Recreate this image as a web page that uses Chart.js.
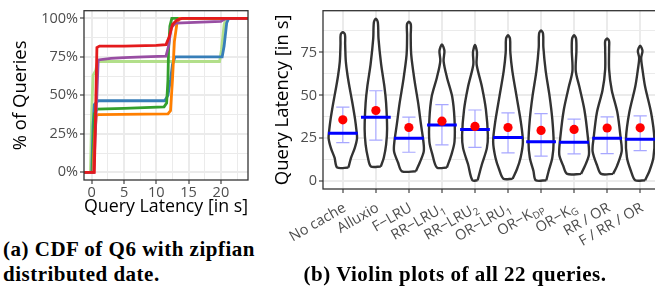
<!DOCTYPE html>
<html>
<head>
<meta charset="utf-8">
<script src="https://cdn.jsdelivr.net/npm/chart.js@4.4.0/dist/chart.umd.min.js"></script>
<style>
  html, body { margin: 0; padding: 0; background: #fff; width: 655px; height: 295px; overflow: hidden; }
  body { position: relative; }
  #cdf { position: absolute; left: 0; top: 0; }
  #violin { position: absolute; left: 255px; top: 0; }
  .cap { position: absolute; font-family: "Liberation Serif", serif; font-weight: bold; font-size: 21px; letter-spacing: 0.5px; color: #000; white-space: nowrap; }
</style>
</head>
<body>
<canvas id="cdf" width="250" height="226"></canvas>
<canvas id="violin" width="410" height="272"></canvas>
<div class="cap" style="left:3px; top:237px; line-height:25px;">(a) CDF of Q6 with zipfian<br>distributed date.</div>
<div class="cap" style="left:255px; width:400px; top:262px; line-height:25px; text-align:center;">(b) Violin plots of all 22 queries.</div>
<script>
// ---- (a) CDF data: latency [s] and cumulative share [%] ----
const cdfTicksX = [0, 2.5, 5, 7.5, 10, 12.5, 15, 17.5, 20, 22.5];
const cdfTicksY = [0, 12.5, 25, 37.5, 50, 62.5, 75, 87.5, 100];

const lightGreenX = [-1.2, -0.2, 0, 0.2, 0.6, 0.9, 19.8, 20.1, 20.5, 20.8, 24.2];
const lightGreenY = [0, 0, 40, 63, 66, 72, 72, 80, 96, 100, 100];
const blueX = [-1.2, 0, 0.2, 0.4, 1, 11.3, 11.8, 12.2, 12.5, 12.9, 20.2, 20.5, 20.9, 21.2, 24.2];
const blueY = [0, 0, 30, 44, 46.5, 46.5, 50, 60, 70, 75, 75, 82, 97, 100, 100];
const greenX = [-1.2, 0.1, 0.4, 0.8, 5, 11.2, 11.6, 11.8, 11.9, 12.1, 12.4, 24.2];
const greenY = [0, 0, 38, 41, 41.5, 42.5, 45, 60, 80, 95, 100, 100];
const orangeX = [-1.2, 0.2, 0.4, 0.7, 1, 11.8, 12.2, 12.5, 12.8, 13.2, 13.6, 24.2];
const orangeY = [0, 0, 20, 37, 37.5, 38, 40, 60, 85, 97, 100, 100];
const purpleX = [-1.2, 0.3, 0.7, 1.0, 3, 5, 8, 11.5, 11.9, 12.3, 13, 20, 20.6, 21, 24.2];
const purpleY = [0, 0, 40, 73, 74, 74.5, 75, 75.5, 82, 94, 97, 98, 99.5, 100, 100];
const redX = [-1.2, 0.4, 0.6, 0.8, 1.2, 5, 10, 11.5, 12.0, 12.5, 13.2, 14, 24.2];
const redY = [0, 0, 40, 81, 82, 82, 82.5, 83, 88, 96, 99, 100, 100];

// ---- (b) violin data ----
const violinCats = ['No cache', 'Alluxio', 'F\u2212LRU', 'RR\u2212LRU', 'RR\u2212LRU', 'OR\u2212LRU', 'OR\u2212K', 'OR\u2212K', 'RR / OR', 'F / RR / OR'];
const violinSubs = ['', '', '', '1', '2', '1', 'DP', 'G', '', ''];
const violinTicksY = [0, 12.5, 25, 37.5, 50, 62.5, 75, 87.5];
const meanVals = [35.8, 41.2, 31.3, 35.0, 31.9, 31.3, 29.6, 30.2, 31.0, 31.1];
const medianVals = [28.0, 37.3, 25.0, 32.8, 30.2, 25.5, 23.0, 22.7, 25.0, 24.4];
const errLow = [22.5, 24.0, 16.9, 21.2, 19.7, 16.5, 14.6, 15.9, 16.1, 17.8];
const errHigh = [43.2, 52.7, 37.3, 44.6, 41.5, 39.8, 39.4, 36.2, 37.5, 38.1];
// outline levels (bottom -> top) and half widths (category units)
const violinY = [
  [8, 13.7, 19.3, 25, 30, 36.2, 45.6, 55, 62, 70, 80, 85.3, 86.8],
  [8.6, 13.7, 21.3, 30.6, 45.6, 55, 68, 83, 92.5, 94.7],
  [5.8, 10.9, 17.4, 23, 32.5, 45.6, 58.7, 73.7, 85, 91.2, 92.9],
  [8, 15.7, 23, 36.2, 49.3, 60.6, 70, 76, 79.7],
  [0.6, 9.9, 19.3, 26.8, 41.8, 55, 68, 75, 79.3],
  [1.5, 7, 13.7, 23, 34.3, 49.3, 64.3, 75, 83, 85],
  [0.6, 6, 13.7, 23, 36.2, 49.3, 64.3, 78, 86, 87.8],
  [4.3, 9, 15.6, 26.8, 41.8, 55, 64.3, 76, 83, 85],
  [4.3, 9, 17.4, 25, 40, 53, 65, 78, 81.5, 83.1],
  [0.6, 6, 13.7, 25, 40, 55, 65, 71.8, 76, 78.9]
];
const violinW = [
  [0.17, 0.25, 0.36, 0.43, 0.41, 0.37, 0.29, 0.2, 0.14, 0.09, 0.07, 0.065, 0],
  [0.15, 0.24, 0.31, 0.34, 0.31, 0.26, 0.16, 0.08, 0.06, 0],
  [0.21, 0.33, 0.45, 0.44, 0.37, 0.28, 0.17, 0.07, 0.055, 0.06, 0],
  [0.15, 0.29, 0.38, 0.38, 0.31, 0.15, 0.05, 0.075, 0],
  [0.08, 0.21, 0.36, 0.39, 0.33, 0.21, 0.05, 0.06, 0],
  [0.14, 0.27, 0.38, 0.45, 0.39, 0.26, 0.13, 0.07, 0.06, 0],
  [0.16, 0.23, 0.34, 0.38, 0.34, 0.26, 0.14, 0.07, 0.06, 0],
  [0.21, 0.33, 0.45, 0.41, 0.31, 0.16, 0.05, 0.07, 0.06, 0],
  [0.18, 0.3, 0.44, 0.41, 0.31, 0.14, 0.06, 0.06, 0.06, 0],
  [0.15, 0.28, 0.4, 0.43, 0.33, 0.15, 0.07, 0.03, 0.07, 0]
];

Chart.defaults.font.family = '"Open Sans", sans-serif';
Chart.defaults.animation = false;

const gridMajor = '#ebebeb';
const tickGray = '#4d4d4d';

// full panel box like ggplot theme_bw
const panelBorder = {
  id: 'panelBorder',
  afterDatasetsDraw(chart) {
    const { ctx, chartArea: a } = chart;
    ctx.save();
    ctx.strokeStyle = '#333333';
    ctx.lineWidth = 1.3;
    ctx.strokeRect(a.left, a.top, a.right - a.left, a.bottom - a.top);
    ctx.restore();
  }
};

const zip = (xs, ys) => xs.map((x, i) => ({ x: x, y: ys[i] }));

function cdfLine(xs, ys, color, order) {
  return { data: zip(xs, ys), borderColor: color, borderWidth: 2.8, pointRadius: 0, tension: 0, order: order };
}

function majorEvery(step) {
  return {
    color: gridMajor,
    lineWidth: (c) => (c.tick && c.tick.value % step === 0 ? 2 : 1),
    tickColor: (c) => (c.tick && c.tick.value % step === 0 ? '#333333' : 'rgba(0,0,0,0)'),
    tickLength: 4,
    tickWidth: 1.1
  };
}

new Chart(document.getElementById('cdf'), {
  type: 'line',
  data: {
    datasets: [
      cdfLine(redX, redY, '#e41a1c', 0),
      cdfLine(purpleX, purpleY, '#984ea3', 1),
      cdfLine(orangeX, orangeY, '#ff7f00', 2),
      cdfLine(greenX, greenY, '#33a02c', 3),
      cdfLine(blueX, blueY, '#377eb8', 4),
      cdfLine(lightGreenX, lightGreenY, '#b2df8a', 5)
    ]
  },
  options: {
    responsive: false,
    layout: { padding: { top: 6, right: 2, left: 0, bottom: 0 } },
    plugins: { legend: { display: false }, tooltip: { enabled: false } },
    scales: {
      x: {
        type: 'linear', min: -1.2, max: 24.2,
        afterBuildTicks: (s) => { s.ticks = cdfTicksX.map((v) => ({ value: v })); },
        afterFit: (s) => { s.height = 46; },
        grid: majorEvery(5),
        border: { display: false },
        ticks: { color: tickGray, font: { size: 14.5 }, padding: 0, maxRotation: 0, autoSkip: false,
          callback: (v) => (v % 5 === 0 ? String(v) : '') },
        title: { display: true, text: 'Query Latency [in s]', color: '#000', font: { size: 18.5 }, padding: { top: 0, bottom: 8 } }
      },
      y: {
        type: 'linear', min: -5, max: 105,
        afterBuildTicks: (s) => { s.ticks = cdfTicksY.map((v) => ({ value: v })); },
        afterFit: (s) => { s.width = 84; },
        grid: majorEvery(25),
        border: { display: false },
        ticks: { color: tickGray, font: { size: 14.5 }, padding: 2, autoSkip: false,
          callback: (v) => (v % 25 === 0 ? v + '%' : '') },
        title: { display: true, text: '% of Queries', color: '#000', font: { size: 18.5 }, padding: { top: 10, bottom: 0 } }
      }
    }
  },
  plugins: [panelBorder]
});

// ---- violin chart ----
function violinOutline(i) {
  const ys = violinY[i], ws = violinW[i];
  const n = ys.length;
  const pts = [];
  for (let k = 0; k < n - 1; k++) pts.push({ x: i + ws[k], y: ys[k] });
  pts.push({ x: i, y: ys[n - 1] });
  for (let k = n - 2; k >= 0; k--) pts.push({ x: i - ws[k], y: ys[k] });
  pts.push({ x: i + ws[0], y: ys[0] });
  return pts;
}

const errPts = [];
const medPts = [];
violinCats.forEach((c, i) => {
  errPts.push({ x: i - 0.2, y: errHigh[i] }, { x: i + 0.2, y: errHigh[i] }, { x: i, y: null });
  errPts.push({ x: i, y: errHigh[i] }, { x: i, y: errLow[i] }, { x: i, y: null });
  errPts.push({ x: i - 0.2, y: errLow[i] }, { x: i + 0.2, y: errLow[i] }, { x: i, y: null });
  medPts.push({ x: i - 0.45, y: medianVals[i] }, { x: i + 0.45, y: medianVals[i] }, { x: i, y: null });
});

const violinDatasets = violinCats.map((c, i) => ({
  type: 'line', data: violinOutline(i), isViolin: true,
  borderColor: '#333333', borderWidth: 2.4, pointRadius: 0, tension: 0.3, order: 4
}));

// white fill inside each violin outline
const violinFill = {
  id: 'violinFill',
  beforeDatasetDraw(chart, args) {
    const ds = chart.data.datasets[args.index];
    if (!ds.isViolin) return;
    const ctx = chart.ctx;
    ctx.save();
    ctx.beginPath();
    args.meta.dataset.path(ctx);
    ctx.closePath();
    ctx.fillStyle = '#ffffff';
    ctx.fill();
    ctx.restore();
  }
};

// rotated category labels with subscripts, right end of baseline near the tick
const violinLabels = {
  id: 'violinLabels',
  afterDraw(chart) {
    const ctx = chart.ctx;
    const xs = chart.scales.x;
    const base = chart.chartArea.bottom + 21.5;
    violinCats.forEach((name, i) => {
      const sub = violinSubs[i];
      ctx.save();
      ctx.translate(xs.getPixelForValue(i) + 4, base);
      ctx.rotate(-30 * Math.PI / 180);
      ctx.fillStyle = tickGray;
      ctx.textBaseline = 'alphabetic';
      ctx.textAlign = 'left';
      ctx.font = '14.5px "Open Sans"';
      const wMain = ctx.measureText(name).width;
      ctx.font = '10px "Open Sans"';
      const wSub = sub ? ctx.measureText(sub).width + 0.5 : 0;
      ctx.font = '14.5px "Open Sans"';
      ctx.fillText(name, -(wMain + wSub), 0);
      if (sub) {
        ctx.font = '10px "Open Sans"';
        ctx.fillText(sub, -wSub + 0.5, 3);
      }
      ctx.restore();
    });
  }
};

new Chart(document.getElementById('violin'), {
  type: 'line',
  data: {
    datasets: violinDatasets.concat([
      { type: 'line', data: errPts, borderColor: 'rgba(60,60,255,0.45)', borderWidth: 1.2, pointRadius: 0, spanGaps: false, order: 3 },
      { type: 'line', data: medPts, borderColor: '#0000ff', borderWidth: 3, pointRadius: 0, spanGaps: false, order: 2 },
      { type: 'scatter', data: meanVals.map((v, i) => ({ x: i, y: v })), backgroundColor: '#ff0000', borderWidth: 0, pointRadius: 4.6, order: 1 }
    ])
  },
  options: {
    responsive: false,
    layout: { padding: { top: 5, right: 5, left: 0, bottom: 0 } },
    plugins: { legend: { display: false }, tooltip: { enabled: false } },
    scales: {
      x: {
        type: 'linear', min: -0.6, max: 9.6,
        afterBuildTicks: (s) => { s.ticks = violinCats.map((c, i) => ({ value: i })); },
        afterFit: (s) => { s.height = 83; },
        grid: { color: gridMajor, lineWidth: 2, tickColor: '#333333', tickLength: 4, tickWidth: 1.1 },
        border: { display: false },
        ticks: { display: false }
      },
      y: {
        type: 'linear', min: -4.5, max: 99.3,
        afterBuildTicks: (s) => { s.ticks = violinTicksY.map((v) => ({ value: v })); },
        afterFit: (s) => { s.width = 68; },
        grid: majorEvery(25),
        border: { display: false },
        ticks: { color: tickGray, font: { size: 14.5 }, padding: 2, autoSkip: false,
          callback: (v) => (v % 25 === 0 ? String(v) : '') },
        title: { display: true, text: 'Query Latency [in s]', color: '#000', font: { size: 18.5 }, padding: { top: 17, bottom: 0 } }
      }
    }
  },
  plugins: [violinFill, panelBorder, violinLabels]
});
</script>
</body>
</html>
